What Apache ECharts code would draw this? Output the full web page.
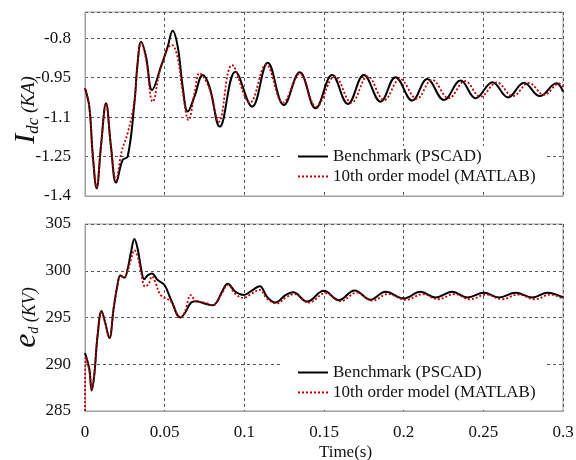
<!DOCTYPE html>
<html>
<head>
<meta charset="utf-8">
<script src="https://cdn.jsdelivr.net/npm/echarts@6/dist/echarts.min.js"></script>
<style>
html,body{margin:0;padding:0;background:#fff;}
#chart{width:576px;height:460px;}
</style>
</head>
<body>
<div id="chart"></div>
<script>
// ---------- Data ----------
var seriesNames = ['Benchmark (PSCAD)', '10th order model (MATLAB)'];
var xTicks = ['0', '0.05', '0.1', '0.15', '0.2', '0.25', '0.3'];
var idcTicks = ['-1.4', '-1.25', '-1.1', '-0.95', '-0.8'];
var edTicks = ['285', '290', '295', '300', '305'];

// Top panel: Idc (KA) — Benchmark (PSCAD)
var idcBenchTime = [0, 0.0027, 0.0048, 0.0073, 0.0100, 0.0132, 0.0163, 0.0195, 0.0236, 0.0268, 0.0310, 0.0330, 0.0352, 0.0383, 0.0421, 0.0477, 0.0519, 0.0550, 0.0582, 0.0613, 0.0645, 0.0687, 0.0739, 0.0781, 0.0846, 0.0944, 0.1049, 0.1147, 0.1248, 0.1348, 0.1447, 0.1551, 0.1650, 0.1750, 0.1855, 0.1949, 0.2054, 0.2148, 0.2253, 0.2357, 0.2452, 0.2557, 0.2655, 0.2755, 0.2854, 0.2959, 0.3000];
var idcBench = [-0.99, -1.06, -1.238, -1.371, -1.212, -1.047, -1.212, -1.349, -1.263, -1.25, -1.047, -0.895, -0.813, -0.87, -0.997, -0.908, -0.832, -0.771, -0.832, -0.984, -1.079, -1.022, -0.94, -0.984, -1.136, -0.927, -1.06, -0.893, -1.054, -0.929, -1.066, -0.94, -1.05, -0.94, -1.041, -0.948, -1.037, -0.955, -1.035, -0.961, -1.028, -0.967, -1.025, -0.969, -1.02, -0.971, -1.003];

// Top panel: Idc (KA) — 10th order model (MATLAB)
var idcModelTime = [0, 0.0027, 0.0048, 0.0073, 0.0100, 0.0132, 0.0163, 0.0195, 0.0230, 0.0268, 0.0310, 0.0330, 0.0352, 0.0383, 0.0425, 0.0480, 0.0545, 0.0580, 0.0612, 0.0650, 0.0690, 0.0718, 0.0780, 0.0839, 0.0923, 0.1035, 0.1137, 0.1243, 0.1348, 0.1452, 0.1568, 0.1672, 0.1775, 0.1878, 0.1977, 0.2082, 0.2178, 0.2283, 0.2385, 0.2482, 0.2585, 0.2685, 0.2785, 0.2882, 0.2975, 0.3000];
var idcModel = [-0.99, -1.06, -1.238, -1.365, -1.212, -1.05, -1.212, -1.34, -1.23, -1.16, -1.04, -0.9, -0.815, -0.88, -1.041, -0.9, -0.825, -0.87, -1.0, -1.111, -1.0, -0.933, -0.99, -1.118, -0.902, -1.045, -0.9, -1.045, -0.935, -1.06, -0.945, -1.045, -0.945, -1.035, -0.955, -1.03, -0.958, -1.028, -0.963, -1.022, -0.968, -1.02, -0.97, -1.015, -0.972, -0.985];

// Bottom panel: ed (KV) — Benchmark (PSCAD)
var edBenchTime = [0, 0.0027, 0.0042, 0.0058, 0.0079, 0.0104, 0.0126, 0.0153, 0.0180, 0.0205, 0.0222, 0.0247, 0.0264, 0.0289, 0.0310, 0.0330, 0.0352, 0.0372, 0.0393, 0.0421, 0.0456, 0.0498, 0.0540, 0.0599, 0.0624, 0.0666, 0.0697, 0.0749, 0.0802, 0.0829, 0.0860, 0.0896, 0.0944, 0.0996, 0.1049, 0.1097, 0.1143, 0.1195, 0.1258, 0.1306, 0.1394, 0.1499, 0.1593, 0.1692, 0.1792, 0.1886, 0.2001, 0.2106, 0.2200, 0.2305, 0.2399, 0.2504, 0.2598, 0.2703, 0.2808, 0.2902, 0.3000];
var edBench = [291.2, 289.5, 287.2, 288.8, 293.1, 295.7, 294.5, 292.8, 296.0, 298.6, 299.5, 299.25, 299.9, 302.0, 303.4, 302.4, 300.25, 299.1, 299.5, 299.7, 299.0, 298.5, 296.9, 295.0, 295.4, 296.6, 296.75, 296.5, 296.3, 296.7, 297.75, 298.6, 297.75, 297.4, 297.9, 298.35, 297.2, 296.6, 297.4, 297.7, 296.7, 297.85, 296.85, 297.9, 296.9, 297.75, 297.04, 297.75, 297.15, 297.75, 297.15, 297.65, 297.15, 297.65, 297.15, 297.65, 297.15];

// Bottom panel: ed (KV) — 10th order model (MATLAB)
var edModelTime = [0, 0.0005, 0.0027, 0.0042, 0.0058, 0.0079, 0.0104, 0.0126, 0.0153, 0.0180, 0.0205, 0.0222, 0.0247, 0.0264, 0.0289, 0.0310, 0.0330, 0.0352, 0.0378, 0.0400, 0.0421, 0.0445, 0.0475, 0.0540, 0.0599, 0.0624, 0.0666, 0.0697, 0.0749, 0.0802, 0.0860, 0.0896, 0.0944, 0.0996, 0.1049, 0.1097, 0.1143, 0.1205, 0.1258, 0.1315, 0.1405, 0.1510, 0.1605, 0.1705, 0.1805, 0.1900, 0.2015, 0.2120, 0.2215, 0.2320, 0.2415, 0.2520, 0.2615, 0.2720, 0.2825, 0.2920, 0.3000];
var edModel = [285.0, 290.8, 289.3, 287.3, 288.9, 293.0, 295.6, 294.4, 292.9, 296.0, 298.5, 299.4, 299.4, 299.8, 301.2, 302.2, 301.6, 299.8, 298.3, 298.6, 299.4, 298.6, 297.4, 296.7, 295.0, 295.5, 297.4, 296.7, 296.6, 296.3, 297.6, 298.5, 297.5, 297.1, 297.6, 297.95, 297.0, 296.5, 297.1, 297.5, 296.6, 297.6, 296.75, 297.65, 296.8, 297.5, 296.9, 297.5, 296.95, 297.5, 296.95, 297.45, 296.95, 297.45, 296.95, 297.45, 297.0];

// ---------- Helpers ----------
function pairs(t, v) { return t.map(function (x, i) { return [x, v[i]]; }); }
function tickFormatter(list) {
  return function (val) {
    for (var i = 0; i < list.length; i++) {
      if (Math.abs(parseFloat(list[i]) - val) < 1e-6) return list[i];
    }
    return '';
  };
}

var FONT = 'Liberation Serif';
var gridLine = { show: true, lineStyle: { color: '#555', type: [3, 3], width: 1 } };
var axisLineStyle = { show: true, lineStyle: { color: '#a0a0a0', width: 1 } };
var labelStyle = { color: '#111', fontFamily: FONT, fontSize: 17 };
var benchStyle = { color: '#000', width: 2 };
var modelStyle = { color: '#c00000', width: 1.8, type: [2, 2] };

var chart = echarts.init(document.getElementById('chart'), null, { renderer: 'canvas' });

var option = {
  animation: false,
  backgroundColor: '#fff',
  grid: [
    { left: 85, top: 12, width: 478, height: 184, containLabel: false, outerBoundsMode: 'none',
      show: true, borderColor: '#a0a0a0', borderWidth: 1, backgroundColor: 'transparent' },
    { left: 85, top: 224, width: 478, height: 187, containLabel: false, outerBoundsMode: 'none',
      show: true, borderColor: '#a0a0a0', borderWidth: 1, backgroundColor: 'transparent' }
  ],
  xAxis: [
    { type: 'value', gridIndex: 0, min: 0, max: 0.3, interval: 0.05,
      axisLine: axisLineStyle, axisTick: { show: false }, axisLabel: { show: false }, splitLine: gridLine },
    { type: 'value', gridIndex: 1, min: 0, max: 0.3, interval: 0.05,
      axisLine: axisLineStyle, axisTick: { show: false },
      axisLabel: Object.assign({ margin: 13, formatter: tickFormatter(xTicks) }, labelStyle),
      splitLine: gridLine,
      name: 'Time(s)', nameLocation: 'middle', nameGap: 33, nameMoveOverlap: false,
      nameTextStyle: { color: '#111', fontFamily: FONT, fontSize: 17, padding: [0, 0, 0, 43] } }
  ],
  yAxis: [
    { type: 'value', gridIndex: 0, min: -1.4, max: -0.7, interval: 0.15,
      axisLine: axisLineStyle, axisTick: { show: false },
      axisLabel: Object.assign({ margin: 14, formatter: tickFormatter(idcTicks) }, labelStyle),
      splitLine: gridLine,
      name: '{big|I}{sub|dc}{unit| (KA)}', nameLocation: 'middle', nameRotate: 90, nameGap: 44, nameMoveOverlap: false,
      nameTextStyle: {
        padding: [0, 12, 0, 0],
        rich: {
          big: { fontFamily: FONT, fontStyle: 'italic', fontSize: 30, lineHeight: 30, color: '#111', verticalAlign: 'top' },
          sub: { fontFamily: FONT, fontStyle: 'italic', fontSize: 17, lineHeight: 17, color: '#111', verticalAlign: 'top', padding: [14, 0, 0, 0] },
          unit: { fontFamily: FONT, fontStyle: 'italic', fontSize: 19, lineHeight: 19, color: '#111', verticalAlign: 'top', padding: [8, 0, 0, 0] }
        }
      } },
    { type: 'value', gridIndex: 1, min: 285, max: 305, interval: 5,
      axisLine: axisLineStyle, axisTick: { show: false },
      axisLabel: Object.assign({ margin: 14, formatter: tickFormatter(edTicks) }, labelStyle),
      splitLine: gridLine,
      name: '{big|e}{sub|d}{unit| (KV)}', nameLocation: 'middle', nameRotate: 90, nameGap: 44, nameMoveOverlap: false,
      nameTextStyle: {
        rich: {
          big: { fontFamily: FONT, fontStyle: 'italic', fontSize: 32, lineHeight: 30, color: '#111', verticalAlign: 'top' },
          sub: { fontFamily: FONT, fontStyle: 'italic', fontSize: 14, lineHeight: 14, color: '#111', verticalAlign: 'top', padding: [16, 0, 0, 0] },
          unit: { fontFamily: FONT, fontStyle: 'italic', fontSize: 18, lineHeight: 18, color: '#111', verticalAlign: 'top', padding: [10, 0, 0, 0] }
        }
      } }
  ],
  legend: [
    { left: 283, top: 146, orient: 'vertical', selectedMode: false,
      backgroundColor: '#fff', padding: [2, 11, 5, 14], itemWidth: 30, itemHeight: 14, itemGap: 3,
      itemStyle: { opacity: 0 },
      textStyle: { color: '#111', fontFamily: FONT, fontSize: 17, lineHeight: 17 },
      data: seriesNames },
    { left: 283, top: 362, orient: 'vertical', selectedMode: false,
      backgroundColor: '#fff', padding: [2, 11, 8, 14], itemWidth: 30, itemHeight: 14, itemGap: 3,
      itemStyle: { opacity: 0 },
      textStyle: { color: '#111', fontFamily: FONT, fontSize: 17, lineHeight: 17 },
      data: seriesNames }
  ],
  series: [
    { name: seriesNames[1], type: 'line', xAxisIndex: 0, yAxisIndex: 0, data: pairs(idcModelTime, idcModel),
      symbol: 'none', smooth: 0.4, lineStyle: modelStyle, itemStyle: { color: '#c00000' }, z: 3 },
    { name: seriesNames[0], type: 'line', xAxisIndex: 0, yAxisIndex: 0, data: pairs(idcBenchTime, idcBench),
      symbol: 'none', smooth: 0.4, lineStyle: benchStyle, itemStyle: { color: '#000' }, z: 2 },
    { name: seriesNames[1], type: 'line', xAxisIndex: 1, yAxisIndex: 1, data: pairs(edModelTime, edModel),
      symbol: 'none', smooth: 0.4, lineStyle: modelStyle, itemStyle: { color: '#c00000' }, z: 3 },
    { name: seriesNames[0], type: 'line', xAxisIndex: 1, yAxisIndex: 1, data: pairs(edBenchTime, edBench),
      symbol: 'none', smooth: 0.4, lineStyle: benchStyle, itemStyle: { color: '#000' }, z: 2 }
  ]
};
chart.setOption(option);
</script>
</body>
</html>
